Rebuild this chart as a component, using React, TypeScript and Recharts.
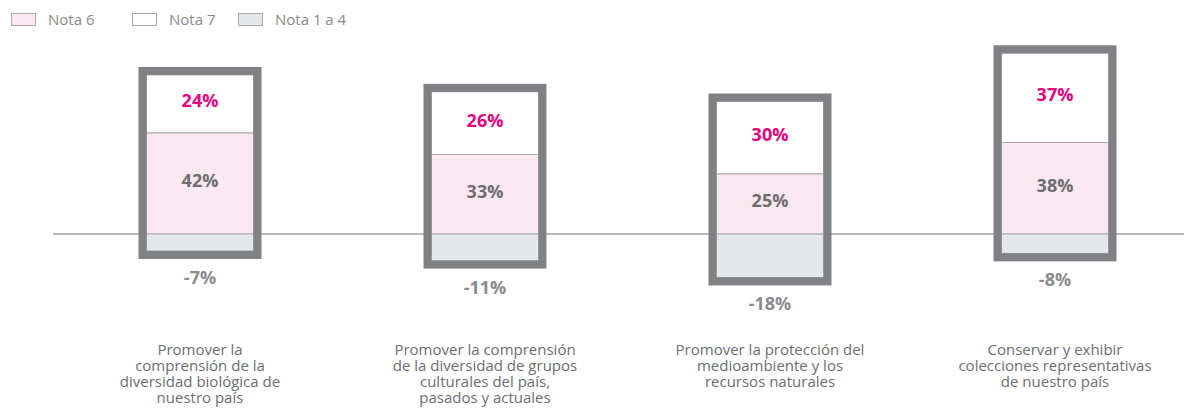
import React from "react";
import {
  BarChart,
  Bar,
  XAxis,
  YAxis,
  CartesianGrid,
  LabelList,
} from "recharts";

// categories + series (percent)
const categories = [
  "Promover la comprensión de la diversidad biológica de nuestro país",
  "Promover la comprensión de la diversidad de grupos culturales del país, pasados y actuales",
  "Promover la protección del medioambiente y los recursos naturales",
  "Conservar y exhibir colecciones representativas de nuestro país",
];
const categoryLines = [
  ["Promover la", "comprensión de la", "diversidad biológica de", "nuestro país"],
  ["Promover la comprensión", "de la diversidad de grupos", "culturales del país,", "pasados y actuales"],
  ["Promover la protección del", "medioambiente y los", "recursos naturales"],
  ["Conservar y exhibir", "colecciones representativas", "de nuestro país"],
];
const nota6 = [42, 33, 25, 38];
const nota7 = [24, 26, 30, 37];
const nota1a4 = [-7, -11, -18, -8];

const legendItems = [
  { name: "Nota 6", fill: "#fce8f1", left: 11 },
  { name: "Nota 7", fill: "#ffffff", left: 132 },
  { name: "Nota 1 a 4", fill: "#e6e7e8", left: 238 },
];

const data = categories.map((c, i) => ({
  name: c,
  nota6: nota6[i],
  nota7: nota7[i],
  nota1a4: nota1a4[i],
}));

const FONT = "'Open Sans', 'Noto Sans', sans-serif";
const FRAME = "#808184";
const DIVIDER = "#a7a9ac";

// top segment: draws its own rect, then the thick frame round the whole stack
function FramedTop(props: any) {
  const { x, y, width, height, payload } = props;
  const k = height / payload.nota7;
  const base = y + height + payload.nota6 * k;
  const bottom = base + Math.abs(payload.nota1a4) * k;
  return (
    <g>
      <rect x={x} y={y} width={width} height={height} fill="#ffffff" stroke={DIVIDER} strokeWidth={1} />
      <rect
        x={x - 4}
        y={y - 4}
        width={width + 8}
        height={bottom - y + 8}
        fill="none"
        stroke={FRAME}
        strokeWidth={8}
      />
    </g>
  );
}

function CategoryTick(props: any) {
  const { x, y, payload } = props;
  const lines = categoryLines[payload.index] || [];
  return (
    <text
      x={x}
      y={y}
      textAnchor="middle"
      fill="#6d6e71"
      fontSize={15}
      fontFamily={FONT}
    >
      {lines.map((l, i) => (
        <tspan key={i} x={x} dy={i === 0 ? 19 : 16}>
          {l}
        </tspan>
      ))}
    </text>
  );
}

function NegLabel(props: any) {
  const { x, y, width, height, value } = props;
  const bottom = Math.max(y, y + height);
  return (
    <text
      x={x + width / 2}
      y={bottom + 33}
      textAnchor="middle"
      fill="#8a8b8d"
      fontSize={18}
      fontWeight={700}
      fontFamily={FONT}
    >
      {`${value}%`}
    </text>
  );
}

function Legend() {
  return (
    <div style={{ position: "absolute", left: 0, top: 0, fontFamily: FONT, fontSize: 15, color: "#8a8b8d" }}>
      {legendItems.map((it) => (
        <div
          key={it.name}
          style={{ position: "absolute", left: it.left, top: 9, display: "flex", alignItems: "center", whiteSpace: "nowrap" }}
        >
          <span
            style={{
              display: "inline-block",
              width: 23,
              height: 11,
              background: it.fill,
              border: "1px solid #a7a9ac",
              marginRight: 12,
            }}
          />
          <span>{it.name}</span>
        </div>
      ))}
    </div>
  );
}

export default function App() {
  return (
    <div
      style={{
        position: "absolute",
        left: 0,
        top: 0,
        width: 1184,
        height: 409,
        overflow: "hidden",
        background: "#fff",
      }}
    >
      <Legend />
      <BarChart
        width={1200}
        height={409}
        data={data}
        stackOffset="sign"
        barSize={107}
        margin={{ top: 40, right: 0, bottom: 0, left: 53 }}
      >
        <CartesianGrid horizontal vertical={false} horizontalValues={[0]} stroke="#9d9fa2" strokeWidth={1.5} />
        <XAxis
          dataKey="name"
          height={79}
          axisLine={false}
          tickLine={false}
          interval={0}
          padding={{ left: 4.5, right: 2.5 }}
          tick={<CategoryTick />}
          tickMargin={0}
        />
        <YAxis hide domain={[-39.8, 80.5]} type="number" allowDataOverflow />
        <Bar dataKey="nota6" stackId="s" fill="#fce8f1" stroke={DIVIDER} strokeWidth={1} isAnimationActive={false}>
          <LabelList
            dataKey="nota6"
            position="center"
            formatter={(v: any) => `${v}%`}
            fill="#6d6e71"
            fontSize={18}
            fontWeight={700}
            fontFamily={FONT}
            dy={-3}
          />
        </Bar>
        <Bar dataKey="nota1a4" stackId="s" fill="#e6e7e8" stroke={DIVIDER} strokeWidth={1} isAnimationActive={false}>
          <LabelList dataKey="nota1a4" content={<NegLabel />} />
        </Bar>
        <Bar dataKey="nota7" stackId="s" fill="#ffffff" shape={<FramedTop />} isAnimationActive={false}>
          <LabelList
            dataKey="nota7"
            position="center"
            formatter={(v: any) => `${v}%`}
            fill="#e6007e"
            fontSize={18}
            fontWeight={700}
            fontFamily={FONT}
            dy={-3}
          />
        </Bar>
      </BarChart>
    </div>
  );
}
